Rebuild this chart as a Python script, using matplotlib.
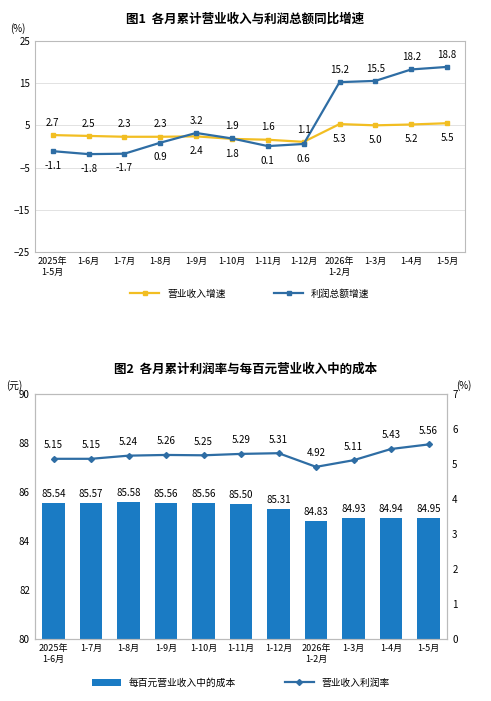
import matplotlib.pyplot as plt
import numpy as np

plt.rcParams['font.family'] = ['Noto Sans CJK SC', 'DejaVu Sans']

months1 = ['2025年\n1-5月', '1-6月', '1-7月', '1-8月', '1-9月', '1-10月', '1-11月', '1-12月',
           '2026年\n1-2月', '1-3月', '1-4月', '1-5月']
revenue = [2.7, 2.5, 2.3, 2.3, 2.4, 1.8, 1.6, 1.1, 5.3, 5.0, 5.2, 5.5]
profit = [-1.1, -1.8, -1.7, 0.9, 3.2, 1.9, 0.1, 0.6, 15.2, 15.5, 18.2, 18.8]

months2 = ['2025年\n1-6月', '1-7月', '1-8月', '1-9月', '1-10月', '1-11月', '1-12月',
           '2026年\n1-2月', '1-3月', '1-4月', '1-5月']
cost = [85.54, 85.57, 85.58, 85.56, 85.56, 85.50, 85.31, 84.83, 84.93, 84.94, 84.95]
margin = [5.15, 5.15, 5.24, 5.26, 5.25, 5.29, 5.31, 4.92, 5.11, 5.43, 5.56]

yellow = '#F2BE22'
blue = '#2E6DA4'
barc = '#1A7BC4'

fig = plt.figure(figsize=(4.91, 7.01), dpi=100)

# 图1
ax1 = fig.add_axes([0.071, 0.64, 0.876, 0.302])
x1 = np.arange(len(months1))
ax1.plot(x1, revenue, color=yellow, marker='s', ms=3.5, lw=1.6, label='营业收入增速')
ax1.plot(x1, profit, color=blue, marker='s', ms=3.5, lw=1.6, label='利润总额增速')
ax1.set_ylim(-25, 25)
ax1.set_yticks([-25, -15, -5, 5, 15, 25])
ax1.set_xlim(-0.5, len(months1) - 0.5)
ax1.set_xticks(x1)
ax1.set_xticklabels(months1, fontsize=6.5)
ax1.tick_params(axis='y', labelsize=7, length=0)
ax1.tick_params(axis='x', length=0)
ax1.grid(axis='y', color='#dddddd', lw=0.6)
for s in ax1.spines.values():
    s.set_color('#bbbbbb')
for i in range(len(x1)):
    r, p = revenue[i], profit[i]
    if r >= p:
        ax1.text(i, r + 2.2, f'{r:.1f}', ha='center', fontsize=7)
        ax1.text(i, p - 4.2, f'{p:.1f}', ha='center', fontsize=7)
    else:
        ax1.text(i, p + 2.2, f'{p:.1f}', ha='center', fontsize=7)
        ax1.text(i, r - 4.2, f'{r:.1f}', ha='center', fontsize=7)
ax1.text(-0.04, 1.04, '(%)', transform=ax1.transAxes, fontsize=7, ha='center')
fig.text(0.5, 0.968, '图1  各月累计营业收入与利润总额同比增速', ha='center', fontsize=9, weight='bold')
ax1.legend(loc='upper center', bbox_to_anchor=(0.5, -0.13), ncol=2, frameon=False,
           fontsize=7, columnspacing=5, handlelength=3)

# 图2
ax2 = fig.add_axes([0.071, 0.088, 0.84, 0.35])
x2 = np.arange(len(months2))
ax2.bar(x2, cost, width=0.6, color=barc, label='每百元营业收入中的成本')
ax2.set_ylim(80, 90)
ax2.set_yticks(range(80, 91, 2))
ax2.set_xlim(-0.5, len(months2) - 0.5)
ax2.set_xticks(x2)
ax2.set_xticklabels(months2, fontsize=6.5)
ax2.tick_params(axis='y', labelsize=7, length=0)
ax2.tick_params(axis='x', length=0)
for i, v in enumerate(cost):
    ax2.text(i, v + 0.25, f'{v:.2f}', ha='center', fontsize=7)
ax3 = ax2.twinx()
ax3.plot(x2, margin, color=blue, marker='D', ms=3, lw=1.6, label='营业收入利润率')
ax3.set_ylim(0, 7)
ax3.tick_params(axis='y', labelsize=7, length=0)
for i, v in enumerate(margin):
    ax3.text(i, v + 0.3, f'{v:.2f}', ha='center', fontsize=7)
for a in (ax2, ax3):
    for s in a.spines.values():
        s.set_color('#bbbbbb')
ax2.text(-0.05, 1.02, '(元)', transform=ax2.transAxes, fontsize=7, ha='center')
ax2.text(1.04, 1.02, '(%)', transform=ax2.transAxes, fontsize=7, ha='center')
fig.text(0.5, 0.468, '图2  各月累计利润率与每百元营业收入中的成本', ha='center', fontsize=9, weight='bold')
h1, l1 = ax2.get_legend_handles_labels()
h2, l2 = ax3.get_legend_handles_labels()
ax2.legend(h1 + h2, l1 + l2, loc='upper center', bbox_to_anchor=(0.5, -0.12), ncol=2,
           frameon=False, fontsize=7, columnspacing=5, handlelength=3)

fig.savefig('out.png', dpi=100)
